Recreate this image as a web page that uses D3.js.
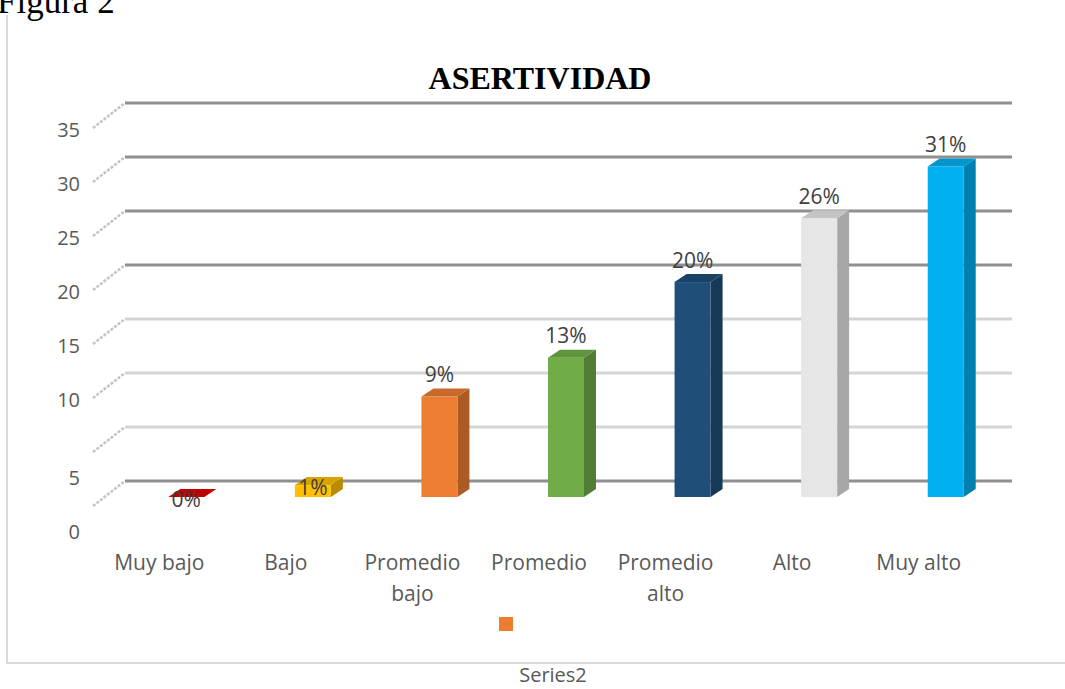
<!DOCTYPE html>
<html><head><meta charset="utf-8">
<script src="https://cdn.jsdelivr.net/npm/d3@7"></script>
<style>body{margin:0;background:#fff}svg{display:block}</style>
</head><body>
<script>
const categories = ["Muy bajo","Bajo","Promedio bajo","Promedio","Promedio alto","Alto","Muy alto"];
const values = [0, 1.1, 9.3, 12.9, 19.9, 25.8, 30.6];
const valueLabels = ["0%","1%","9%","13%","20%","26%","31%"];
const yTicks = [0,5,10,15,20,25,30,35];
const barColors = ["#c00000","#ffc000","#ed7d31","#70ad47","#1f4e79","#e7e6e6","#00b0f0"];
const title = "ASERTIVIDAD";
const caption = "Figura 2";
const seriesName = "Series2";

const W = 1065, H = 689;
const svg = d3.select("body").append("svg").attr("width", W).attr("height", H);

// frame
svg.append("path").attr("d","M7,15 V663 H1065").attr("fill","none").attr("stroke","#d9d9d9").attr("stroke-width",2);
svg.append("text").attr("x",-3).attr("y",13).attr("font-family","Liberation Serif").attr("font-size",35).attr("fill","#000").text(caption);
svg.append("text").attr("x",540).attr("y",89).attr("text-anchor","middle").attr("font-family","Liberation Serif").attr("font-weight","bold").attr("font-size",32).attr("fill","#000").text(title);

const x = d3.scaleBand().domain(categories).range([96, 982]).padding(0);
const yFront = d3.scaleLinear().domain([0,35]).range([497, 119]);
const wallDx = 32, wallDy = -25, barShift = 27, barW = 36, depthX = 12, depthY = -8, backOff = -16;
const yBack = v => yFront(v) + backOff;

// gridlines on back wall + diagonal side wall lines
const g = svg.append("g");
yTicks.forEach(v => {
  const yb = yBack(v);
  const light = v > 0 && v < 20;
  g.append("line").attr("x1",125).attr("x2",1012).attr("y1",yb).attr("y2",yb)
    .attr("stroke", light ? "#d4d4d4" : "#8f8f8f").attr("stroke-width",3);
  g.append("line").attr("x1",125 - wallDx).attr("y1",yb - wallDy).attr("x2",125).attr("y2",yb)
    .attr("stroke","#c4c4c4").attr("stroke-width",2.5).attr("stroke-dasharray","3,1.5");
  const shift = v <= 5 ? 24 : 0;
  g.append("text").attr("x",80).attr("y",yb - wallDy + 4 + shift).attr("text-anchor","end")
    .attr("dominant-baseline","middle").attr("font-family","Open Sans").attr("font-size",20)
    .attr("fill","#595959").text(v);
});

// bars
const bars = svg.append("g");
categories.forEach((c,i) => {
  const v = values[i];
  const cx = x(c) + x.bandwidth()/2 + barShift;
  const x0 = cx - barW/2, x1 = cx + barW/2;
  const yt = yFront(v), yb = yFront(0);
  const col = d3.color(barColors[i]);
  const top = col.darker(0.45).formatHex(), side = col.darker(0.9).formatHex();
  bars.append("path").attr("d",`M${x1},${yb} L${x1+depthX},${yb+depthY} L${x1+depthX},${yt+depthY} L${x1},${yt} Z`).attr("fill",side);
  if (yb - yt > 0.5) bars.append("rect").attr("x",x0).attr("y",yt).attr("width",barW).attr("height",yb-yt).attr("fill",col.formatHex());
  bars.append("path").attr("d",`M${x0},${yt} L${x1},${yt} L${x1+depthX},${yt+depthY} L${x0+depthX},${yt+depthY} Z`).attr("fill", v < 0.5 ? col.formatHex() : top);
  const ly = v < 5 ? yt + 4 : yt - 20;
  bars.append("text").attr("x",cx).attr("y",ly).attr("text-anchor","middle").attr("dominant-baseline","middle")
    .attr("font-family","Open Sans").attr("font-size",21).attr("fill","#404040").text(valueLabels[i]);
});

// category labels
const lab = svg.append("g");
categories.forEach(c => {
  const words = c.split(" ");
  const lines = (words.length === 2 && words[0] === "Promedio") ? [words[0], words[1]] : [c];
  lines.forEach((t,j) => {
    lab.append("text").attr("x", x(c) + x.bandwidth()/2).attr("y", 564 + j*31)
      .attr("text-anchor","middle").attr("dominant-baseline","middle")
      .attr("font-family","Open Sans").attr("font-size",21).attr("fill","#595959").text(t);
  });
});

// legend
svg.append("rect").attr("x",499).attr("y",617).attr("width",14).attr("height",14).attr("fill","#ed7d31");
svg.append("text").attr("x",553).attr("y",677).attr("text-anchor","middle").attr("dominant-baseline","middle")
  .attr("font-family","Open Sans").attr("font-size",20).attr("fill","#595959").text(seriesName);
</script>
</body></html>
